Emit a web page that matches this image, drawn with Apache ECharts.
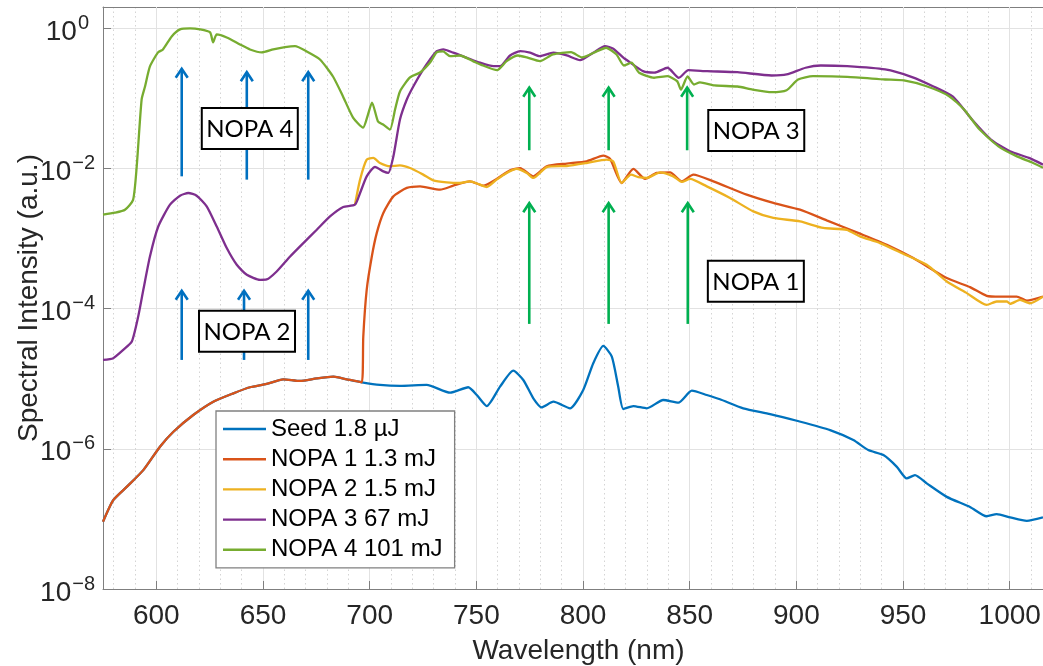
<!DOCTYPE html>
<html>
<head>
<meta charset="utf-8">
<script src="https://cdn.jsdelivr.net/npm/echarts@6/dist/echarts.min.js"></script>
<style>
  html, body { margin: 0; padding: 0; background: #ffffff; }
  #chart { width: 1043px; height: 666px; }
</style>
</head>
<body>
<div id="chart"></div>
<script>
// Spectra as [wavelength (nm), spectral intensity (a.u.)]
const seed = [
  [575, 9.1e-8], [579.8, 1.85e-7], [586.1, 2.86e-7], [593.9, 4.96e-7], [601.7, 1.07e-6],
  [608.0, 1.75e-6], [617.3, 3.03e-6], [626.7, 4.69e-6], [636.1, 6.18e-6], [643.9, 7.54e-6],
  [651.7, 8.40e-6], [659.5, 9.80e-6], [667.3, 9.27e-6], [675.2, 1.01e-5], [683.0, 1.07e-5],
  [689.2, 9.80e-6], [696.3, 8.88e-6], [704.8, 8.13e-6], [714.2, 7.87e-6], [726.7, 8.13e-6],
  [737.7, 6.31e-6], [746.2, 7.54e-6], [750.2, 5.85e-6], [754.9, 4.07e-6], [761.1, 7.69e-6],
  [767.3, 1.30e-5], [772.0, 9.58e-6], [776.7, 5.25e-6], [780.6, 3.90e-6], [786.1, 4.69e-6],
  [793.9, 3.78e-6], [800.1, 6.90e-6], [804.8, 1.66e-5], [809.5, 2.93e-5], [813.5, 2.06e-5],
  [816.5, 7.69e-6], [818.9, 3.69e-6], [823.6, 4.07e-6], [829.9, 3.78e-6], [837.6, 4.96e-6],
  [844.7, 4.54e-6], [851.0, 6.74e-6], [858.0, 5.85e-6], [864.2, 5.08e-6], [875.1, 3.78e-6],
  [887.7, 3.13e-6], [900.2, 2.51e-6], [915.8, 1.85e-6], [926.7, 1.33e-6], [933.7, 9.58e-7],
  [940.8, 8.13e-7], [947.1, 5.53e-7], [951.7, 3.78e-7], [955.6, 4.21e-7], [961.1, 3.21e-7],
  [970.5, 2.06e-7], [981.4, 1.48e-7], [989.2, 1.09e-7], [993.9, 1.17e-7], [1000.2, 1.05e-7],
  [1008.0, 9.36e-8], [1015.6, 1.05e-7]
];

const nopa1 = [
  [575, 9.1e-8], [579.8, 1.85e-7], [586.1, 2.86e-7], [593.9, 4.96e-7], [601.7, 1.07e-6],
  [608.0, 1.75e-6], [617.3, 3.03e-6], [626.7, 4.69e-6], [636.1, 6.18e-6], [643.9, 7.54e-6],
  [651.7, 8.40e-6], [659.5, 9.80e-6], [667.3, 9.27e-6], [675.2, 1.01e-5], [683.0, 1.07e-5],
  [689.2, 9.80e-6], [696.3, 8.88e-6], [697.0, 3.98e-5], [698.6, 1.85e-4], [701.0, 5.53e-4],
  [703.3, 1.19e-3], [706.4, 2.31e-3], [711.1, 3.98e-3], [717.4, 5.25e-3], [723.6, 5.53e-3],
  [733.0, 4.96e-3], [739.2, 5.66e-3], [747.0, 6.52e-3], [753.3, 5.66e-3], [759.5, 7.06e-3],
  [765.8, 9.36e-3], [770.5, 1.01e-2], [776.7, 7.69e-3], [783.0, 1.07e-2], [792.4, 1.17e-2],
  [801.7, 1.26e-2], [809.5, 1.52e-2], [812.7, 1.36e-2], [818.1, 6.18e-3], [823.6, 9.80e-3],
  [829.1, 7.06e-3], [834.5, 8.59e-3], [840.8, 8.77e-3], [846.3, 6.52e-3], [851.7, 8.13e-3],
  [861.1, 6.52e-3], [876.7, 4.21e-3], [889.2, 3.21e-3], [901.7, 2.57e-3], [914.2, 1.81e-3],
  [929.8, 1.17e-3], [942.4, 8.13e-4], [954.8, 5.25e-4], [970.5, 2.72e-4], [981.4, 2.02e-4],
  [989.2, 1.52e-4], [995.5, 1.48e-4], [1003.3, 1.48e-4], [1008.0, 1.30e-4], [1015.6, 1.48e-4]
];

const nopa2 = [
  [693.1, 3.03e-3], [695.5, 6.90e-3], [698.6, 1.33e-2], [701.7, 1.41e-2], [704.8, 1.19e-2],
  [709.5, 1.07e-2], [714.2, 1.10e-2], [718.9, 1.01e-2], [725.1, 8.13e-3], [729.8, 6.74e-3],
  [736.1, 6.31e-3], [742.3, 6.18e-3], [747.0, 6.52e-3], [751.7, 5.85e-3], [754.9, 5.42e-3],
  [759.5, 6.90e-3], [764.2, 8.59e-3], [768.9, 9.80e-3], [773.6, 8.59e-3], [776.7, 7.29e-3],
  [783.0, 1.04e-2], [792.4, 1.08e-2], [801.7, 1.19e-2], [811.1, 1.33e-2], [814.2, 1.25e-2],
  [818.1, 6.18e-3], [822.5, 8.13e-3], [825.9, 7.48e-3], [829.9, 7.29e-3], [836.1, 8.77e-3],
  [842.3, 7.69e-3], [846.3, 6.39e-3], [850.2, 7.06e-3], [858.0, 5.53e-3], [868.9, 3.78e-3],
  [879.8, 2.43e-3], [889.2, 1.96e-3], [901.7, 1.75e-3], [912.6, 1.41e-3], [923.6, 1.33e-3],
  [929.8, 1.07e-3], [939.2, 8.59e-4], [950.1, 6.04e-4], [961.1, 4.21e-4], [970.5, 2.43e-4],
  [979.9, 1.66e-4], [989.2, 1.13e-4], [993.9, 1.26e-4], [998.6, 1.26e-4], [1000.2, 1.17e-4],
  [1004.8, 1.33e-4], [1009.5, 1.19e-4], [1015.6, 1.48e-4]
];

const nopa3 = [
  [575, 1.85e-5], [579.8, 1.96e-5], [584.5, 2.57e-5], [588.5, 3.38e-5], [591.5, 7.69e-5],
  [593.9, 1.85e-4], [597.0, 5.53e-4], [600.9, 1.48e-3], [606.4, 3.03e-3], [611.1, 4.07e-3],
  [615.0, 4.45e-3], [618.9, 4.07e-3], [623.6, 2.87e-3], [628.3, 1.48e-3], [633.0, 7.29e-4],
  [637.7, 4.21e-4], [642.4, 3.03e-4], [648.6, 2.57e-4], [651.7, 2.60e-4], [656.4, 3.38e-4],
  [662.7, 5.53e-4], [668.9, 8.59e-4], [675.2, 1.33e-3], [681.4, 2.06e-3], [687.6, 2.81e-3],
  [693.1, 3.03e-3], [695.5, 4.45e-3], [698.6, 7.69e-3], [702.5, 1.05e-2], [706.4, 9.06e-3],
  [708.7, 8.60e-3], [711.1, 1.48e-2], [714.2, 4.97e-2], [717.4, 9.58e-2], [720.5, 0.148],
  [725.1, 0.257], [728.3, 0.357], [731.4, 0.469], [734.5, 0.496], [739.2, 0.446],
  [745.5, 0.378], [751.7, 0.321], [758.0, 0.286], [761.1, 0.286], [765.8, 0.407],
  [770.5, 0.469], [775.2, 0.446], [779.8, 0.398], [786.1, 0.446], [792.4, 0.407],
  [798.6, 0.349], [804.8, 0.446], [810.3, 0.553], [814.2, 0.508], [818.9, 0.378],
  [822.0, 0.324], [828.1, 0.243], [833.4, 0.231], [839.6, 0.272], [844.9, 0.196],
  [849.4, 0.251], [858.2, 0.243], [872.4, 0.235], [888.4, 0.211], [895.4, 0.218],
  [904.3, 0.272], [911.4, 0.293], [923.8, 0.286], [941.6, 0.257], [953.9, 0.202],
  [964.5, 0.146], [973.4, 0.105], [982.3, 0.0497], [991.2, 0.0257], [1000.1, 0.0175],
  [1009.0, 0.0141], [1015.6, 0.0113]
];

const nopa4 = [
  [575, 2.18e-3], [580.6, 2.33e-3], [585.3, 2.57e-3], [589.1, 3.55e-3], [590.8, 1.06e-2],
  [593.1, 9.58e-2], [594.7, 0.147], [597.0, 0.284], [600.8, 0.45], [603.1, 0.496],
  [607.2, 0.76], [611.1, 0.958], [615.8, 0.99], [620.5, 0.958], [625.2, 0.868],
  [626.6, 0.625], [628.3, 0.813], [633.0, 0.736], [639.2, 0.585], [643.9, 0.496],
  [649.4, 0.45], [654.8, 0.496], [660.3, 0.535], [665.0, 0.553], [670.5, 0.465],
  [676.7, 0.357], [682.8, 0.204], [687.5, 0.106], [692.2, 0.053], [696.9, 0.0381],
  [699.2, 0.0585], [701.1, 0.0868], [703.9, 0.0465], [706.3, 0.0421], [709.5, 0.0357],
  [711.9, 0.069], [714.2, 0.125], [718.9, 0.198], [723.6, 0.233], [728.3, 0.324],
  [731.4, 0.45], [734.4, 0.465], [737.7, 0.398], [742.3, 0.407], [748.4, 0.338],
  [753.1, 0.293], [759.7, 0.251], [764.2, 0.338], [769.5, 0.407], [773.7, 0.381],
  [779.8, 0.338], [785.9, 0.421], [794.4, 0.454], [799.5, 0.381], [806.6, 0.469],
  [810.8, 0.525], [815.7, 0.421], [819.2, 0.293], [822.7, 0.321], [826.3, 0.231],
  [833.3, 0.196], [839.6, 0.206], [844.1, 0.175], [845.9, 0.133], [849.0, 0.204],
  [852.0, 0.157], [854.8, 0.168], [861.7, 0.152], [872.4, 0.147], [879.5, 0.133],
  [888.4, 0.122], [895.4, 0.13], [900.8, 0.185], [907.8, 0.206], [923.8, 0.202],
  [941.6, 0.185], [950.4, 0.179], [961.0, 0.148], [971.6, 0.107], [978.6, 0.069],
  [985.9, 0.0357], [994.7, 0.0206], [1003.4, 0.0148], [1010.5, 0.0121], [1015.6, 0.0102]
];

const seriesNames = ['Seed 1.8 µJ', 'NOPA 1 1.3 mJ', 'NOPA 2 1.5 mJ', 'NOPA 3 67 mJ', 'NOPA 4 101 mJ'];
const seriesData = [seed, nopa1, nopa2, nopa3, nopa4];
const seriesColors = ['#0072BD', '#D95319', '#EDB120', '#7E2F8E', '#77AC30'];

// Axis ticks
const xTicks = [600, 650, 700, 750, 800, 850, 900, 950, 1000];
const xMinorTicks = [580, 590, 610, 620, 630, 640, 660, 670, 680, 690, 710, 720, 730, 740,
  760, 770, 780, 790, 810, 820, 830, 840, 860, 870, 880, 890, 910, 920, 930, 940,
  960, 970, 980, 990, 1010];

// Pump arrows: [wavelength, tail intensity, head intensity]
const blueArrows = [
  [611.9, 7.69e-3, 0.272], [642.4, 6.9e-3, 0.243], [671.2, 6.9e-3, 0.243],
  [611.9, 1.85e-5, 1.85e-4], [641.1, 1.85e-5, 1.85e-4], [671.2, 1.85e-5, 1.85e-4]
];
const greenArrows = [
  [774.8, 0.0181, 0.146], [812.0, 0.0181, 0.146], [848.8, 0.0181, 0.146],
  [774.8, 6.04e-5, 3.29e-3], [812.0, 6.04e-5, 3.29e-3], [849.1, 6.04e-5, 3.29e-3]
];

// Stage tags: [wavelength, intensity] of the box centre, and their texts
const stageTexts = ['NOPA 4', 'NOPA 3', 'NOPA 1', 'NOPA 2'];
const stagePos = [[643.8, 3.69e-2], [881.2, 3.46e-2], [881.0, 2.46e-4], [642.5, 4.75e-5]];

const FONT = '"Liberation Sans", Arial, Helvetica, sans-serif';
const AXIS_GREY = '#7f7f7f';
const TEXT_DARK = '#262626';

const chart = echarts.init(document.getElementById('chart'), null, { renderer: 'canvas' });

function arrowSeries(data, color) {
  return {
    type: 'custom',
    xAxisIndex: 0,
    yAxisIndex: 0,
    silent: true,
    z: 5,
    data: data,
    encode: { x: 0, y: [1, 2] },
    renderItem: function (params, api) {
      const tail = api.coord([api.value(0), api.value(1)]);
      const head = api.coord([api.value(0), api.value(2)]);
      return {
        type: 'group',
        children: [
          {
            type: 'line',
            shape: { x1: tail[0], y1: tail[1], x2: head[0], y2: head[1] + 1 },
            style: { stroke: color, lineWidth: 2.6 }
          },
          {
            type: 'polyline',
            shape: { points: [[head[0] - 6, head[1] + 10], [head[0], head[1] + 1], [head[0] + 6, head[1] + 10]] },
            style: { stroke: color, lineWidth: 2.6, fill: null }
          }
        ]
      };
    }
  };
}

const lineSeries = seriesNames.map(function (name, i) {
  return {
    name: name,
    type: 'line',
    xAxisIndex: 0,
    yAxisIndex: 0,
    data: seriesData[i],
    symbol: 'none',
    showSymbol: false,
    smooth: 0.2,
    color: seriesColors[i],
    lineStyle: { width: 2.3, color: seriesColors[i] },
    z: 3
  };
});

const tagSeries = {
  type: 'custom',
  xAxisIndex: 0,
  yAxisIndex: 0,
  silent: true,
  z: 6,
  data: stagePos.map(function (p, i) { return [p[0], p[1], i]; }),
  renderItem: function (params, api) {
    const c = api.coord([api.value(0), api.value(1)]);
    const w = 96, h = 41;
    return {
      type: 'group',
      children: [
        {
          type: 'rect',
          shape: { x: c[0] - w / 2, y: c[1] - h / 2, width: w, height: h },
          style: { fill: '#ffffff', stroke: '#000000', lineWidth: 2 }
        },
        {
          type: 'text',
          x: c[0],
          y: c[1] + 1,
          style: {
            text: stageTexts[api.value(2)],
            fill: '#000000',
            font: '24px Lato, "Open Sans", sans-serif',
            align: 'center',
            verticalAlign: 'middle'
          }
        }
      ]
    };
  }
};

const option = {
  animation: false,
  backgroundColor: '#ffffff',
  textStyle: { fontFamily: FONT },
  grid: { left: 103, right: 0, top: 7, bottom: 77, containLabel: false, outerBoundsMode: 'none' },
  legend: {
    data: seriesNames,
    orient: 'vertical',
    left: 216,
    top: 411,
    icon: 'rect',
    backgroundColor: '#ffffff',
    borderColor: '#808080',
    borderWidth: 1.3,
    borderRadius: 0,
    padding: [5, 12, 5, 7],
    itemGap: 4.2,
    itemWidth: 43,
    itemHeight: 2.4,
    selectedMode: false,
    textStyle: { fontSize: 24, color: '#000000', fontFamily: FONT, lineHeight: 26 }
  },
  xAxis: [
    {
      type: 'value',
      position: 'bottom',
      min: 575,
      max: 1015.6,
      name: 'Wavelength (nm)',
      nameLocation: 'middle',
      nameGap: 48,
      nameMoveOverlap: false,
      nameTextStyle: { fontSize: 28, color: TEXT_DARK, fontFamily: FONT, padding: [0, 0, 0, 11] },
      axisLine: { show: true, lineStyle: { color: AXIS_GREY, width: 1 } },
      axisTick: { show: true, inside: true, length: 8, customValues: xTicks, lineStyle: { color: AXIS_GREY } },
      axisLabel: {
        show: true, customValues: xTicks, fontSize: 28, color: TEXT_DARK, margin: 13, fontFamily: FONT,
        formatter: function (v) { return String(v); }
      },
      splitLine: { show: true, lineStyle: { color: '#e2e2e2', width: 1 } },
      z: 2
    },
    {
      type: 'value',
      position: 'top',
      min: 575,
      max: 1015.6,
      axisLine: { show: true, lineStyle: { color: AXIS_GREY, width: 1 } },
      axisTick: { show: true, inside: true, length: 8, customValues: xTicks, lineStyle: { color: AXIS_GREY } },
      axisLabel: { show: false },
      splitLine: { show: false }
    },
    {
      type: 'value',
      position: 'bottom',
      min: 575,
      max: 1015.6,
      axisLine: { show: false },
      axisTick: { show: false, customValues: xMinorTicks },
      axisLabel: { show: false, customValues: xMinorTicks },
      splitLine: { show: true, lineStyle: { color: '#d4d4d4', width: 1, type: [1.5, 3] } }
    }
  ],
  yAxis: [
    {
      type: 'log',
      logBase: 10,
      min: 1e-8,
      max: 2,
      interval: 2,
      name: 'Spectral Intensity (a.u.)',
      nameLocation: 'middle',
      nameGap: 60,
      nameMoveOverlap: false,
      nameTextStyle: { fontSize: 28, color: TEXT_DARK, fontFamily: FONT },
      axisLine: { show: true, lineStyle: { color: AXIS_GREY, width: 1 } },
      axisTick: { show: true, inside: true, length: 8, lineStyle: { color: AXIS_GREY } },
      axisLabel: {
        show: true,
        showMaxLabel: false,
        margin: 8,
        color: TEXT_DARK,
        formatter: function (v) {
          const e = Math.log10(v);
          const r = Math.round(e);
          if (Math.abs(e - r) > 0.01) return '';
          if (r === 0) return '{b|10}{z|0}';
          return '{b|10}{s|' + (r < 0 ? '\u2212' : '') + Math.abs(r) + '}';
        },
        rich: {
          b: { fontSize: 28, lineHeight: 34, color: TEXT_DARK, fontFamily: FONT, padding: [8, 0, 0, 0] },
          s: { fontSize: 20, lineHeight: 20, verticalAlign: 'top', color: TEXT_DARK, fontFamily: FONT, padding: [2, 0, 0, 1] },
          z: { fontSize: 20, lineHeight: 20, verticalAlign: 'top', color: TEXT_DARK, fontFamily: FONT, padding: [2, 6, 0, 1] }
        }
      },
      splitLine: { show: true, lineStyle: { color: '#e2e2e2', width: 1 } }
    }
  ],
  series: lineSeries.concat([
    arrowSeries(blueArrows, '#0070C0'),
    arrowSeries(greenArrows, '#00B050'),
    tagSeries
  ])
};

chart.setOption(option);
</script>
</body>
</html>
